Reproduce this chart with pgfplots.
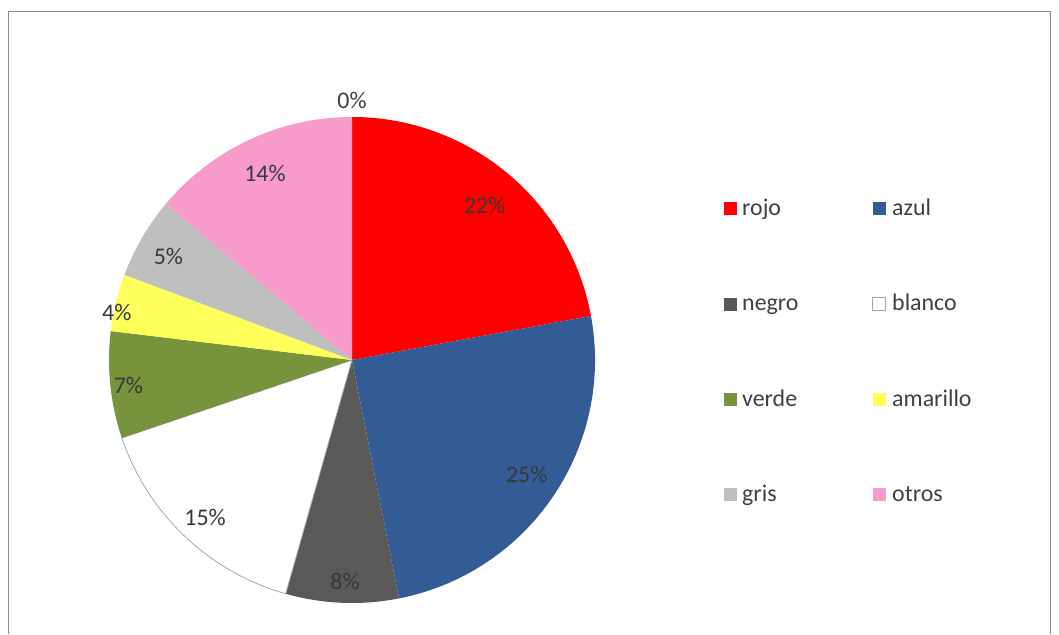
\documentclass[border=0pt]{standalone}
\usepackage{pgfplots}
\pgfplotsset{compat=1.18}
\usepackage{pgfplotstable}
\usepackage{fontspec}
\setmainfont{Carlito}

\definecolor{cRojo}{HTML}{FF0000}
\definecolor{cAzul}{HTML}{335C96}
\definecolor{cNegro}{HTML}{595959}
\definecolor{cBlanco}{HTML}{FFFFFF}
\definecolor{cVerde}{HTML}{77933C}
\definecolor{cAmarillo}{HTML}{FFFF5C}
\definecolor{cGris}{HTML}{BFBFBF}
\definecolor{cOtros}{HTML}{F79BCB}
\definecolor{cEdge}{HTML}{A0A8B8}
\definecolor{cText}{HTML}{404040}
\definecolor{cFrame}{HTML}{8C8C8C}

% name, share (%), shown label (%), fill colour, slice edge, label angle (deg, clockwise from top), label radius (px)
\pgfplotstableread{
name     value label color     edge   la    lr
rojo     22.1  22    cRojo     none   40.6  204
azul     24.8  25    cAzul     none   123.3 209
negro    7.5   8     cNegro    none   181.8 222
blanco   15.4  15    cBlanco   cEdge  223.1 215
verde    7.1   7     cVerde    none   263.6 225
amarillo 3.8   4     cAmarillo none   281.5 240
gris     5.4   5     cGris     none   299.5 211
otros    13.9  14    cOtros    none   335.0 206
}\pie

\begin{document}
\begin{tikzpicture}
\begin{axis}[
  scale only axis, width=1059bp, height=634bp,
  xmin=0, xmax=1059, ymin=0, ymax=634,
  hide axis, clip=false,
]
\pgfplotsextra{
  % full picture area
  \path (axis cs:0,0) rectangle (axis cs:1059,634);
  % frame of the chart area
  \draw[cFrame, line width=1.5bp] (axis cs:8.5,0) -- (axis cs:8.5,622.5) -- (axis cs:1050.5,622.5) -- (axis cs:1050.5,0);
  \gdef\cum{0}
  \foreach \i in {0,...,7}{
    \pgfplotstablegetelem{\i}{value}\of\pie \let\v\pgfplotsretval
    \pgfplotstablegetelem{\i}{color}\of\pie \let\c\pgfplotsretval
    \pgfplotstablegetelem{\i}{edge}\of\pie \let\e\pgfplotsretval
    \pgfplotstablegetelem{\i}{name}\of\pie \let\n\pgfplotsretval
    \pgfmathsetmacro\sa{90-3.6*\cum}
    \pgfmathsetmacro\ea{90-3.6*(\cum+\v)}
    \filldraw[fill=\c, draw=\e, line width=0.8bp] (axis cs:352,274) -- ++(\sa:243bp) arc[start angle=\sa, end angle=\ea, radius=243bp] -- cycle;
    \pgfmathsetmacro\newcum{\cum+\v}
    \xdef\cum{\newcum}
    % legend entry
    \pgfmathsetmacro\col{mod(\i,2)}
    \pgfmathsetmacro\row{floor(\i/2)}
    \pgfmathsetmacro\mx{730+149*\col}
    \pgfmathsetmacro\my{634-(209+95.3*\row)}
    \pgfmathsetmacro\tx{742+150*\col}
    \filldraw[fill=\c, draw=\e, line width=0.8bp] (axis cs:\mx-6.5,\my-6.5) rectangle (axis cs:\mx+6.5,\my+6.5);
    \node[anchor=base west, inner sep=0pt, text=cText, font=\fontsize{24}{28}\selectfont] at (axis cs:\tx,\my-6.5) {\n};
  }
  % slice labels
  \foreach \i in {0,...,7}{
    \pgfplotstablegetelem{\i}{label}\of\pie \let\v\pgfplotsretval
    \pgfplotstablegetelem{\i}{la}\of\pie \let\la\pgfplotsretval
    \pgfplotstablegetelem{\i}{lr}\of\pie \let\lr\pgfplotsretval
    \pgfmathsetmacro\lx{352+\lr*cos(90-\la)}
    \pgfmathsetmacro\ly{274+\lr*sin(90-\la)}
    \node[inner sep=0pt, text=black!78, font=\fontsize{24}{28}\selectfont] at (axis cs:\lx,\ly) {\v\%};
  }
  \node[inner sep=0pt, text=cText, font=\fontsize{24}{28}\selectfont] at (axis cs:352,534) {0\%};
}
\end{axis}
\end{tikzpicture}
\end{document}
